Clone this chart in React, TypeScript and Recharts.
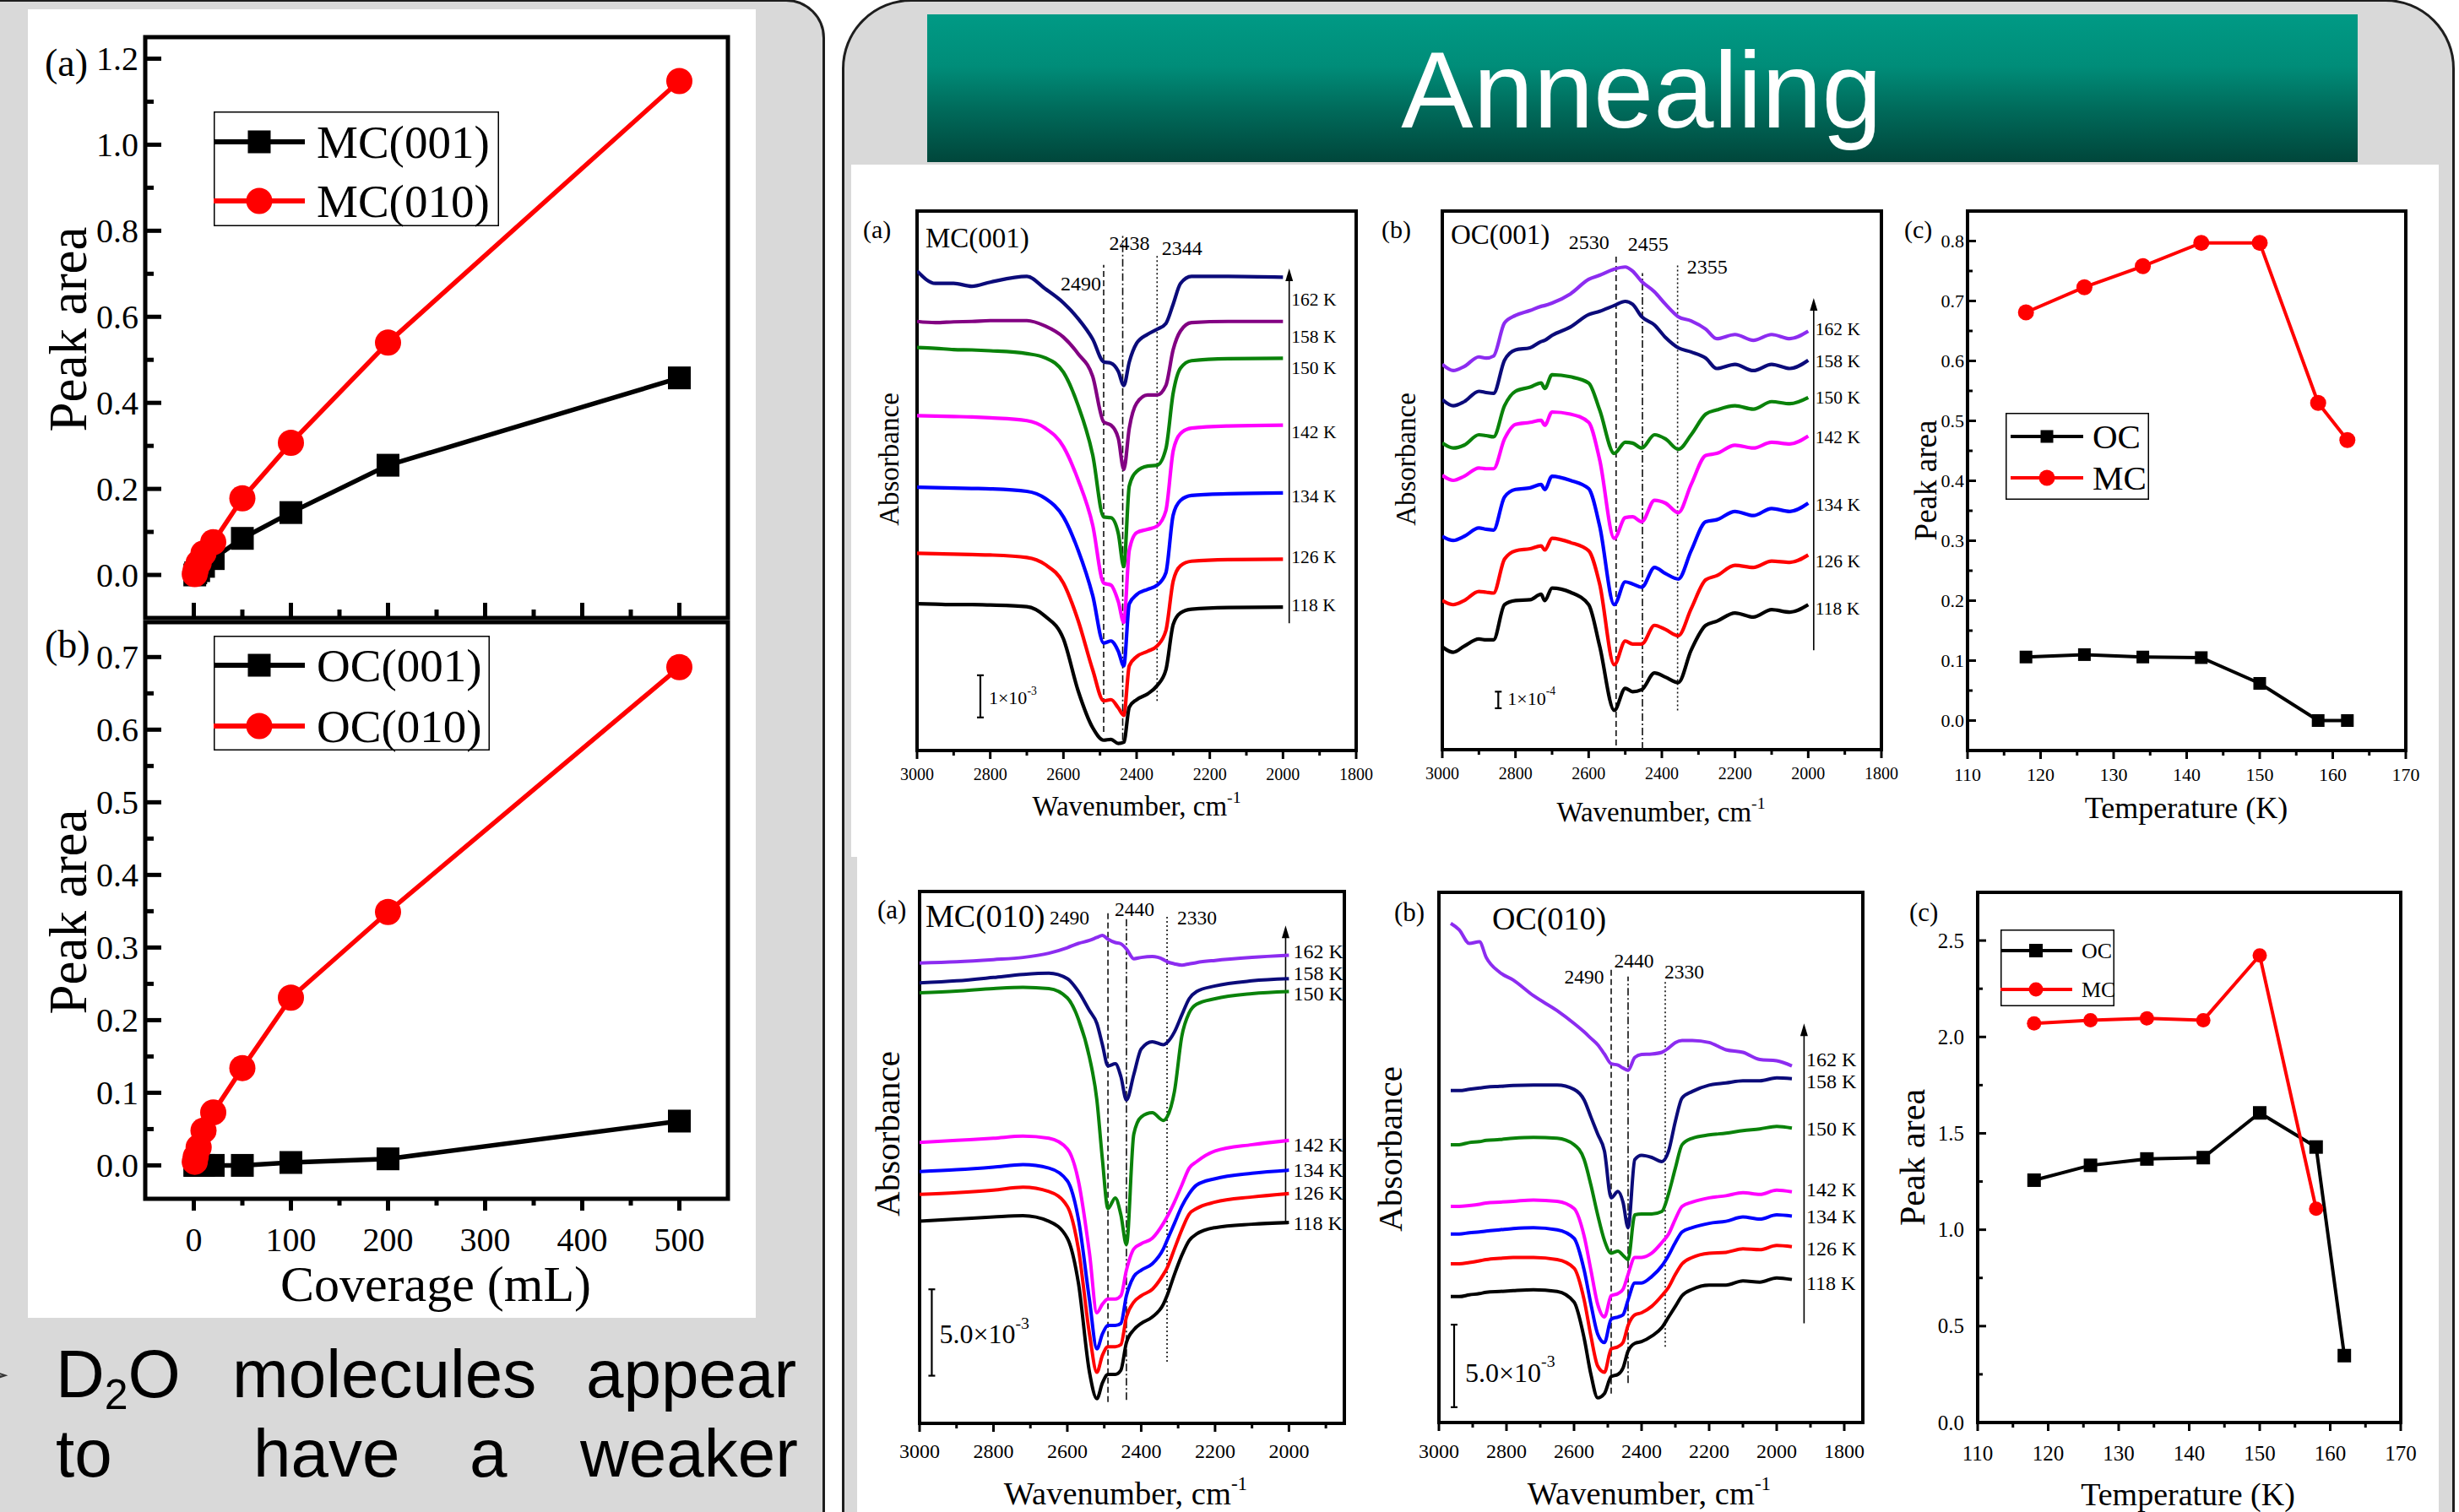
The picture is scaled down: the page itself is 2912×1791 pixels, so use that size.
import React from 'react';
import { LineChart, Line, XAxis, YAxis, ReferenceArea, ReferenceLine, Legend } from 'recharts';

const SERIF = '"Liberation Serif", "Times New Roman", serif';
const SANS = '"Liberation Sans", Arial, Helvetica, sans-serif';

// ---------- left panel: peak area vs D2O coverage ----------
const coverage = [1, 2, 5, 10, 20, 50, 100, 200, 500];
const mc001Area = [0.0, 0.005, 0.01, 0.02, 0.038, 0.085, 0.145, 0.255, 0.458];
const mc010Area = [0.002, 0.012, 0.028, 0.05, 0.076, 0.178, 0.307, 0.54, 1.148];
const oc001Area = [0, 0, 0, 0, 0, 0, 0.004, 0.009, 0.061];
const oc010Area = [0.005, 0.012, 0.025, 0.048, 0.073, 0.134, 0.231, 0.349, 0.686];

// ---------- annealing: peak area vs temperature ----------
const tempK = [118, 126, 134, 142, 150, 158, 162];
const ocAnneal001 = [0.106, 0.11, 0.106, 0.105, 0.062, 0.0, 0.0];
const mcAnneal001 = [0.681, 0.723, 0.758, 0.797, 0.797, 0.53, 0.468];
const ocAnneal010 = [1.257, 1.334, 1.367, 1.374, 1.606, 1.429, 0.347];
const mcAnneal010 = [2.07, 2.087, 2.096, 2.087, 2.423, 1.109, null];

// ---------- ticks ----------
const covTicks = [0, 50, 100, 150, 200, 250, 300, 350, 400, 450, 500];
const covMajor = [0, 100, 200, 300, 400, 500];
const areaTicksA = [0, 0.1, 0.2, 0.3, 0.4, 0.5, 0.6, 0.7, 0.8, 0.9, 1.0, 1.1, 1.2];
const areaMajorA = [0, 0.2, 0.4, 0.6, 0.8, 1.0, 1.2];
const areaTicksB = [0, 0.05, 0.1, 0.15, 0.2, 0.25, 0.3, 0.35, 0.4, 0.45, 0.5, 0.55, 0.6, 0.65, 0.7];
const areaMajorB = [0, 0.1, 0.2, 0.3, 0.4, 0.5, 0.6, 0.7];
const tempTicks = [110, 115, 120, 125, 130, 135, 140, 145, 150, 155, 160, 165, 170];
const tempMajor = [110, 120, 130, 140, 150, 160, 170];
const annealTicksTop = [0, 0.05, 0.1, 0.15, 0.2, 0.25, 0.3, 0.35, 0.4, 0.45, 0.5, 0.55, 0.6, 0.65, 0.7, 0.75, 0.8];
const annealMajorTop = [0, 0.1, 0.2, 0.3, 0.4, 0.5, 0.6, 0.7, 0.8];
const annealTicksBot = [0, 0.25, 0.5, 0.75, 1.0, 1.25, 1.5, 1.75, 2.0, 2.25, 2.5];
const annealMajorBot = [0, 0.5, 1.0, 1.5, 2.0, 2.5];
const wnTicks = [3000, 2900, 2800, 2700, 2600, 2500, 2400, 2300, 2200, 2100, 2000, 1900, 1800];
const wnMajor = [3000, 2800, 2600, 2400, 2200, 2000, 1800];

// ---------- IR spectra, absorbance in 1e-4 units (offset traces) ----------
const mc001Wn = [3000, 2950, 2900, 2850, 2800, 2700, 2650, 2600, 2560, 2520, 2490, 2470, 2450, 2435, 2420, 2400, 2370, 2344, 2320, 2300, 2280, 2250, 2150, 2000];
const mc001K162 = [116.0, 113.0, 113.0, 112.3, 113.3, 114.7, 111.7, 108.3, 104.5, 99.5, 94.0, 93.7, 91.7, 88.3, 94.0, 98.5, 100.7, 101.9, 103.3, 108.0, 113.0, 114.7, 114.7, 114.5];
const mc001K158 = [103.8, 103.5, 103.7, 103.8, 104.0, 104.0, 102.7, 100.0, 96.0, 90.5, 79.5, 78.7, 75.5, 68.0, 78.0, 84.0, 86.0, 86.0, 88.3, 97.0, 101.5, 103.5, 103.8, 103.8];
const mc001K150 = [97.5, 97.3, 97.0, 96.9, 96.7, 96.0, 95.0, 91.5, 83.5, 71.5, 56.5, 56.3, 52.5, 44.5, 64.0, 67.5, 68.8, 69.0, 73.0, 86.5, 92.5, 94.3, 94.8, 94.9];
const mc001K142 = [81.0, 80.9, 80.8, 80.7, 80.5, 79.8, 78.0, 73.5, 65.5, 54.5, 40.5, 40.0, 36.0, 31.0, 48.5, 52.7, 53.5, 54.3, 58.0, 72.5, 76.7, 78.0, 78.5, 78.7];
const mc001K134 = [63.7, 63.6, 63.5, 63.4, 63.3, 62.7, 61.0, 56.5, 48.5, 37.5, 26.0, 26.5, 24.0, 20.5, 35.5, 37.7, 39.0, 40.0, 43.0, 57.0, 60.5, 61.7, 62.1, 62.3];
const mc001K126 = [47.7, 47.6, 47.5, 47.4, 47.3, 46.7, 45.0, 40.5, 31.5, 19.5, 12.0, 12.3, 10.3, 8.5, 20.5, 22.7, 24.0, 25.3, 29.0, 41.0, 44.7, 45.8, 46.2, 46.3];
const mc001K118 = [35.5, 35.4, 35.3, 35.3, 35.2, 34.8, 32.5, 27.0, 14.5, 5.5, 2.5, 2.7, 1.7, 2.0, 10.5, 12.3, 13.7, 15.7, 19.5, 30.5, 33.3, 34.2, 34.6, 34.7];

const oc001Wn = [3000, 2970, 2940, 2900, 2880, 2860, 2830, 2800, 2760, 2730, 2720, 2700, 2650, 2600, 2570, 2530, 2500, 2480, 2455, 2420, 2390, 2355, 2320, 2280, 2250, 2200, 2150, 2100, 2050, 2000];
const oc001K162 = [93.0, 91.5, 92.5, 94.8, 94.5, 95.0, 103.0, 104.8, 106.0, 107.0, 107.2, 107.8, 110.0, 113.5, 114.5, 116.0, 116.5, 115.5, 113.0, 110.5, 107.5, 104.5, 103.5, 101.5, 99.2, 100.2, 98.8, 100.2, 99.2, 101.0];
const oc001K158 = [84.5, 83.0, 84.0, 86.5, 86.2, 86.0, 94.0, 96.5, 97.0, 98.5, 98.8, 100.0, 102.0, 105.0, 105.8, 107.2, 108.2, 107.5, 104.5, 102.5, 99.5, 97.0, 96.0, 94.5, 92.0, 93.0, 91.5, 93.0, 92.0, 94.0];
const oc001K150 = [74.0, 72.8, 73.5, 76.0, 75.8, 75.5, 83.0, 86.5, 87.5, 88.5, 87.2, 90.5, 90.0, 88.5, 82.0, 71.5, 74.2, 74.0, 72.8, 76.0, 75.0, 72.5, 76.0, 81.0, 82.0, 83.0, 82.2, 84.0, 83.5, 85.0];
const oc001K142 = [66.2, 65.0, 66.0, 68.0, 67.8, 67.8, 75.0, 78.5, 79.0, 79.5, 78.3, 81.5, 81.0, 79.0, 70.0, 51.0, 56.0, 56.2, 55.0, 60.2, 59.5, 57.2, 64.0, 71.0, 71.5, 73.5, 72.8, 74.2, 73.8, 75.7];
const oc001K134 = [51.5, 50.5, 51.5, 53.5, 53.2, 53.0, 61.0, 62.8, 63.2, 64.0, 62.8, 66.0, 65.0, 63.0, 54.0, 35.0, 40.5, 40.0, 39.2, 44.0, 42.5, 41.2, 48.0, 55.0, 55.5, 57.5, 56.5, 58.2, 57.5, 59.5];
const oc001K126 = [36.0, 35.0, 36.0, 38.2, 38.0, 37.8, 46.0, 48.0, 48.5, 49.2, 48.2, 51.0, 50.0, 48.0, 40.0, 20.5, 26.2, 25.5, 25.5, 30.0, 29.0, 27.5, 34.0, 41.0, 42.0, 44.5, 44.0, 45.5, 45.2, 47.0];
const oc001K118 = [24.8, 23.5, 25.0, 26.7, 26.5, 26.5, 35.0, 36.0, 36.2, 37.5, 36.0, 39.0, 38.0, 35.0, 25.0, 9.5, 14.8, 14.0, 14.5, 18.5, 17.5, 16.2, 24.0, 30.0, 31.0, 33.0, 32.0, 33.8, 33.2, 35.0];

const mc010Wn = [3000, 2900, 2800, 2720, 2650, 2600, 2570, 2540, 2520, 2505, 2490, 2470, 2455, 2440, 2420, 2400, 2370, 2340, 2330, 2310, 2290, 2270, 2250, 2200, 2100, 2000];
const mc010K162 = [108.2, 108.5, 109.0, 109.5, 110.5, 111.8, 112.8, 113.5, 114.2, 114.7, 113.8, 113.0, 112.7, 111.5, 109.2, 109.5, 109.7, 109.0, 108.5, 108.0, 107.7, 108.0, 108.3, 108.8, 109.5, 110.0];
const mc010K158 = [103.5, 104.0, 104.8, 105.5, 105.8, 104.5, 101.5, 97.0, 94.0, 89.0, 84.0, 84.5, 81.5, 76.0, 82.0, 88.0, 89.7, 89.0, 89.5, 92.0, 96.0, 99.8, 101.5, 102.8, 104.0, 104.5];
const mc010K150 = [101.2, 101.6, 102.2, 102.5, 102.2, 100.0, 95.0, 86.0, 76.0, 62.0, 50.5, 53.0, 49.0, 42.0, 68.0, 72.0, 73.0, 71.2, 72.0, 78.0, 91.0, 96.5, 98.5, 99.8, 101.0, 101.5];
const mc010K142 = [66.0, 66.5, 67.0, 67.5, 67.0, 64.5, 57.0, 40.0, 26.0, 28.0, 29.2, 29.2, 30.0, 36.0, 41.0, 42.2, 43.5, 47.0, 48.5, 52.0, 56.0, 60.0, 61.5, 64.0, 65.5, 66.5];
const mc010K134 = [59.2, 59.6, 60.2, 60.8, 60.0, 57.0, 48.0, 29.0, 17.5, 21.0, 23.0, 23.0, 23.5, 30.0, 34.5, 36.0, 37.5, 41.0, 43.0, 47.0, 51.0, 54.0, 56.0, 57.5, 58.8, 59.5];
const mc010K126 = [53.8, 54.2, 54.8, 55.5, 54.5, 51.0, 41.0, 21.0, 12.0, 16.0, 18.0, 18.0, 18.5, 25.0, 28.5, 30.0, 31.5, 35.0, 36.5, 41.0, 45.5, 49.2, 50.5, 52.0, 53.2, 54.0];
const mc010K118 = [47.5, 48.0, 48.5, 48.8, 47.5, 43.5, 33.0, 12.0, 5.8, 9.5, 11.5, 11.5, 12.5, 19.0, 22.0, 23.5, 25.0, 28.0, 30.0, 35.0, 39.5, 43.0, 44.5, 46.0, 46.8, 47.2];

const oc010Wn = [2965, 2940, 2910, 2880, 2860, 2820, 2780, 2720, 2650, 2600, 2570, 2550, 2530, 2510, 2490, 2470, 2455, 2440, 2420, 2400, 2370, 2340, 2320, 2300, 2280, 2250, 2200, 2150, 2100, 2050, 2000, 1955];
const oc010K162 = [117.3, 115.8, 112.6, 113.0, 109.3, 105.8, 104.0, 100.3, 96.8, 93.8, 91.8, 90.3, 88.8, 86.6, 84.3, 84.0, 83.3, 82.8, 85.8, 86.5, 86.6, 87.0, 88.0, 89.3, 89.8, 89.8, 89.3, 87.6, 87.0, 85.3, 85.0, 83.8];
const oc010K158 = [78.0, 78.0, 78.3, 78.6, 78.8, 79.0, 79.2, 79.3, 79.3, 78.3, 75.8, 71.8, 67.8, 63.8, 52.8, 54.3, 51.8, 45.8, 61.8, 62.8, 62.3, 61.3, 63.8, 70.8, 76.3, 77.8, 79.3, 79.8, 80.3, 80.3, 81.0, 80.8];
const oc010K150 = [65.3, 65.3, 65.8, 66.0, 66.3, 66.5, 66.8, 67.0, 66.8, 65.3, 61.8, 55.8, 48.8, 42.8, 39.8, 40.3, 39.3, 38.3, 48.8, 49.0, 49.0, 49.6, 53.8, 59.8, 65.3, 66.8, 67.6, 68.0, 68.6, 69.0, 69.6, 69.2];
const oc010K142 = [50.8, 50.8, 51.0, 51.3, 51.6, 51.8, 52.0, 52.3, 52.0, 50.3, 43.8, 35.8, 27.8, 24.8, 29.8, 30.3, 31.3, 34.8, 38.8, 38.8, 39.8, 42.3, 44.3, 47.8, 50.8, 51.8, 52.8, 53.3, 54.0, 53.6, 54.6, 54.2];
const oc010K134 = [44.3, 44.3, 44.6, 44.8, 45.0, 45.3, 45.6, 45.8, 45.3, 43.3, 35.8, 27.8, 20.8, 18.8, 24.3, 24.8, 25.3, 28.8, 32.8, 32.8, 34.3, 36.8, 39.3, 42.3, 44.8, 45.8, 46.8, 47.3, 48.3, 47.8, 48.8, 48.5];
const oc010K126 = [37.3, 37.3, 37.6, 38.0, 38.3, 38.6, 38.8, 38.8, 38.3, 36.3, 28.8, 20.3, 13.3, 11.8, 17.3, 17.8, 18.8, 22.8, 25.3, 25.8, 27.3, 29.8, 31.8, 34.8, 37.3, 38.8, 39.8, 40.0, 40.8, 40.6, 41.6, 41.3];
const oc010K118 = [29.6, 29.6, 30.0, 30.3, 30.6, 30.8, 31.0, 31.2, 30.8, 28.3, 19.8, 11.3, 5.8, 6.8, 10.8, 11.3, 12.8, 16.8, 18.6, 19.0, 20.3, 22.3, 24.8, 27.3, 29.8, 31.3, 32.3, 32.3, 33.3, 33.0, 34.0, 33.6];

const C = {
  navy: '#0b0b7a',
  purple: '#820082',
  green: '#0a820a',
  magenta: '#ff00ff',
  blue: '#0000ff',
  red: '#ff0000',
  black: '#000000',
  violet: '#8c2cf0',
};

// ---------- helpers ----------
type TickStyle = {
  side: 'bottom' | 'left';
  majors: number[];
  show: boolean;
  out: boolean;
  major: number;
  minor: number;
  width: number;
  font: number;
  gap: number;
  digits: number;
};

function makeTick(t: TickStyle) {
  return (props: any) => {
    const v = Number(props.payload?.value);
    const isMajor = t.majors.some((m) => Math.abs(m - v) < 1e-9);
    const len = isMajor ? t.major : t.minor;
    const s = t.out ? 1 : -1;
    const label = t.show && isMajor ? v.toFixed(t.digits) : '';
    const { x, y } = props;
    if (t.side === 'bottom') {
      return (
        <g>
          <line x1={x} y1={y} x2={x} y2={y + s * len} stroke="#000" strokeWidth={t.width} />
          {label && (
            <text x={x} y={y + t.gap} textAnchor="middle" dominantBaseline="central" fontSize={t.font} fontFamily={SERIF} fill="#000">
              {label}
            </text>
          )}
        </g>
      );
    }
    return (
      <g>
        <line x1={x} y1={y} x2={x - s * len} y2={y} stroke="#000" strokeWidth={t.width} />
        {label && (
          <text x={x - t.gap} y={y} textAnchor="end" dominantBaseline="central" fontSize={t.font} fontFamily={SERIF} fill="#000">
            {label}
          </text>
        )}
      </g>
    );
  };
}

function Note({ x, y, size, align = 'left', rotate = false, font = SERIF, color = '#000', children }: any) {
  const tx = align === 'left' ? '0' : align === 'center' ? '-50%' : '-100%';
  return (
    <div
      style={{
        position: 'absolute',
        left: x,
        top: y,
        fontSize: size,
        fontFamily: font,
        color,
        lineHeight: 0.8,
        whiteSpace: 'nowrap',
        transform: rotate ? 'translate(-50%,-50%) rotate(-90deg)' : `translate(${tx},-50%)`,
      }}
    >
      {children}
    </div>
  );
}

function Sup({ children }: any) {
  return <span style={{ fontSize: '0.6em', position: 'relative', top: '-0.75em' }}>{children}</span>;
}

function Marker({ cx, cy, shape, size, color }: any) {
  if (shape === 'square') return <rect x={cx - size / 2} y={cy - size / 2} width={size} height={size} fill={color} />;
  return <circle cx={cx} cy={cy} r={size} fill={color} />;
}

type PSeries = { key: string; name: string; color: string; values: (number | null)[]; shape: 'square' | 'circle'; size: number };

function LegendBox({ payload, st, series }: any) {
  return (
    <svg width={st.w} height={st.h} style={{ display: 'block', overflow: 'visible' }}>
      <rect x={0.75} y={0.75} width={st.w - 1.5} height={st.h - 1.5} fill="#fff" stroke="#000" strokeWidth={1.5} />
      {series.map((s: PSeries, i: number) => {
        const entry = (payload || []).find((e: any) => e.dataKey === s.key);
        const cy = st.rows[i];
        return (
          <g key={s.key}>
            <line x1={st.line[0]} x2={st.line[1]} y1={cy} y2={cy} stroke={s.color} strokeWidth={st.lw} />
            <Marker cx={st.mark} cy={cy} shape={s.shape} size={s.size} color={s.color} />
            <text x={st.textX} y={cy} dominantBaseline="central" fontSize={st.font} fontFamily={SERIF} fill="#000">
              {entry ? entry.value : s.name}
            </text>
          </g>
        );
      })}
    </svg>
  );
}

function PeakChart(p: any) {
  const rows = p.xs.map((x: number, i: number) => {
    const r: Record<string, number | null> = { x };
    p.series.forEach((s: PSeries) => {
      r[s.key] = s.values[i];
    });
    return r;
  });
  return (
    <div style={{ position: 'absolute', left: p.left, top: p.top }}>
      <LineChart width={p.width} height={p.height} data={rows} margin={p.margin}>
        <XAxis
          type="number"
          dataKey="x"
          domain={p.xDomain}
          allowDataOverflow
          ticks={p.xTicks}
          interval={0}
          height={1}
          tickSize={0}
          tickMargin={0}
          axisLine={false}
          tickLine={false}
          tick={makeTick(p.xTick)}
        />
        <YAxis
          type="number"
          domain={p.yDomain}
          allowDataOverflow
          ticks={p.yTicks}
          interval={0}
          width={1}
          tickSize={0}
          tickMargin={0}
          axisLine={false}
          tickLine={false}
          tick={makeTick(p.yTick)}
        />
        <ReferenceArea
          x1={p.xDomain[0]}
          x2={p.xDomain[1]}
          y1={p.yDomain[0]}
          y2={p.yDomain[1]}
          fill="none"
          fillOpacity={0}
          stroke="#000"
          strokeWidth={p.frame}
          ifOverflow="visible"
        />
        <Legend
          layout="vertical"
          align="center"
          verticalAlign="middle"
          wrapperStyle={{ left: p.legend.left, top: p.legend.top, width: p.legend.w, height: p.legend.h }}
          content={(lp: any) => <LegendBox payload={lp.payload} st={p.legend} series={p.series} />}
        />
        {p.series.map((s: PSeries) => (
          <Line
            key={s.key}
            dataKey={s.key}
            name={s.name}
            type="linear"
            stroke={s.color}
            strokeWidth={p.lw}
            dot={(d: any) =>
              d.cy == null || d.value == null ? null : (
                <Marker key={`${s.key}-${d.index}`} cx={d.cx} cy={d.cy} shape={s.shape} size={s.size} color={s.color} />
              )
            }
            activeDot={false}
            isAnimationActive={false}
          />
        ))}
      </LineChart>
    </div>
  );
}

type Curve = { key: string; name: string; color: string; values: number[]; dy: number };
type Mark = { w: number; lo: number; hi: number; dash: string; text: string; dx: number; dy: number; anchor: string };

function MarkShape({ x1, y1, x2, y2, m, font }: any) {
  const top = Math.min(y1, y2);
  return (
    <g>
      <line x1={x1} y1={y1} x2={x2} y2={y2} stroke="#111" strokeWidth={1.6} strokeDasharray={m.dash} />
      <text x={x1 + m.dx} y={top + m.dy} textAnchor={m.anchor} dominantBaseline="central" fontSize={font} fontFamily={SERIF} fill="#000">
        {m.text}
      </text>
    </g>
  );
}

function ArrowShape({ x1, y1, y2 }: any) {
  const top = Math.min(y1, y2);
  const bot = Math.max(y1, y2);
  return (
    <g>
      <line x1={x1} y1={bot} x2={x1} y2={top + 10} stroke="#000" strokeWidth={1.6} />
      <path d={`M${x1 - 4.5},${top + 15} L${x1},${top} L${x1 + 4.5},${top + 15} Z`} fill="#000" />
    </g>
  );
}

function BarShape({ x1, y1, y2, bar }: any) {
  const top = Math.min(y1, y2);
  const bot = Math.max(y1, y2);
  return (
    <g>
      <line x1={x1} x2={x1} y1={top} y2={bot} stroke="#000" strokeWidth={2.2} />
      <line x1={x1 - 4} x2={x1 + 4} y1={top} y2={top} stroke="#000" strokeWidth={2.2} />
      <line x1={x1 - 4} x2={x1 + 4} y1={bot} y2={bot} stroke="#000" strokeWidth={2.2} />
      <text x={x1 + bar.dx} y={(top + bot) / 2 + bar.dy} dominantBaseline="central" fontSize={bar.font} fontFamily={SERIF} fill="#000">
        {bar.text}
        <tspan dy={-bar.font * 0.42} fontSize={bar.font * 0.62}>
          {bar.exp}
        </tspan>
      </text>
    </g>
  );
}

function Spectra(p: any) {
  const rows = p.wn.map((w: number, i: number) => {
    const r: Record<string, number> = { w };
    p.curves.forEach((c: Curve) => {
      r[c.key] = c.values[i];
    });
    return r;
  });
  const last = p.wn.length - 1;
  const ticks = wnTicks.filter((t) => t >= p.xDomain[0] && t <= p.xDomain[1]);
  return (
    <div style={{ position: 'absolute', left: p.left, top: p.top }}>
      <LineChart width={p.width} height={p.height} data={rows} margin={p.margin}>
        <XAxis
          type="number"
          dataKey="w"
          domain={p.xDomain}
          reversed
          allowDataOverflow
          ticks={ticks}
          interval={0}
          height={1}
          tickSize={0}
          tickMargin={0}
          axisLine={false}
          tickLine={false}
          tick={makeTick({ side: 'bottom', majors: wnMajor, show: true, out: true, major: 10, minor: 6, width: 3, font: p.tickFont, gap: p.tickGap, digits: 0 })}
        />
        <YAxis type="number" domain={[0, p.yMax]} allowDataOverflow hide />
        <ReferenceArea
          x1={p.xDomain[0]}
          x2={p.xDomain[1]}
          y1={0}
          y2={p.yMax}
          fill="none"
          fillOpacity={0}
          stroke="#000"
          strokeWidth={4}
          ifOverflow="visible"
        />
        {p.marks.map((m: Mark) => (
          <ReferenceLine
            key={m.text}
            segment={[
              { x: m.w, y: m.lo },
              { x: m.w, y: m.hi },
            ]}
            ifOverflow="visible"
            shape={(s: any) => <MarkShape {...s} m={m} font={p.markFont} />}
          />
        ))}
        <ReferenceLine
          segment={[
            { x: p.arrow.w, y: p.arrow.lo },
            { x: p.arrow.w, y: p.arrow.hi },
          ]}
          ifOverflow="visible"
          shape={(s: any) => <ArrowShape {...s} />}
        />
        <ReferenceLine
          segment={[
            { x: p.bar.w, y: p.bar.lo },
            { x: p.bar.w, y: p.bar.hi },
          ]}
          ifOverflow="visible"
          shape={(s: any) => <BarShape {...s} bar={p.bar} />}
        />
        {p.curves.map((c: Curve) => (
          <Line
            key={c.key}
            dataKey={c.key}
            name={c.name}
            type="monotone"
            stroke={c.color}
            strokeWidth={p.lineWidth}
            dot={(d: any) =>
              d.index === last && d.cy != null ? (
                <text
                  key={`lbl-${c.key}`}
                  x={d.cx + p.labelDx}
                  y={d.cy + c.dy}
                  dominantBaseline="central"
                  fontSize={p.labelFont}
                  fontFamily={SERIF}
                  fill="#000"
                >
                  {c.name}
                </text>
              ) : null
            }
            activeDot={false}
            isAnimationActive={false}
          />
        ))}
      </LineChart>
    </div>
  );
}

const DASH = '7 4';
const DASHDOT = '9 3 2 3';
const DOT = '2 3';

export default function App() {
  return (
    <div style={{ position: 'fixed', left: 0, top: 0, width: 2912, height: 1791, overflow: 'hidden', background: '#fff', fontFamily: SERIF }}>
      {/* panels */}
      <div
        style={{
          position: 'absolute',
          left: -10,
          top: -1,
          width: 987,
          height: 1900,
          background: '#d9d9d9',
          border: '3px solid #1e1e1e',
          borderRadius: '0 46px 0 0',
          boxSizing: 'border-box',
        }}
      />
      <div style={{ position: 'absolute', left: 33, top: 11, width: 862, height: 1550, background: '#fff' }} />
      <div
        style={{
          position: 'absolute',
          left: 997,
          top: -1,
          width: 1910,
          height: 1900,
          background: '#d9d9d9',
          border: '3px solid #1e1e1e',
          borderRadius: '82px 82px 0 0',
          boxSizing: 'border-box',
        }}
      />
      <div style={{ position: 'absolute', left: 1008, top: 195, width: 1880, height: 820, background: '#fff' }} />
      <div style={{ position: 'absolute', left: 1015, top: 1012, width: 1873, height: 800, background: '#fff' }} />
      <div
        style={{
          position: 'absolute',
          left: 1098,
          top: 17,
          width: 1694,
          height: 175,
          background: 'linear-gradient(to bottom, #009a85 0%, #008d79 35%, #006a5a 65%, #00463b 100%)',
        }}
      />
      <Note x={1944} y={107} size={128} align="center" font={SANS} color="#fff">
        Annealing
      </Note>

      {/* left: coverage charts */}
      <PeakChart
        left={0}
        top={0}
        width={900}
        height={760}
        margin={{ top: 44, right: 38, bottom: 27, left: 171 }}
        xs={coverage}
        xDomain={[-50, 550]}
        yDomain={[-0.1, 1.25]}
        xTicks={covTicks}
        yTicks={areaTicksA}
        xTick={{ side: 'bottom', majors: covMajor, show: false, out: false, major: 18, minor: 10, width: 5, font: 40, gap: 50, digits: 0 }}
        yTick={{ side: 'left', majors: areaMajorA, show: true, out: false, major: 19, minor: 10, width: 5, font: 40, gap: 8, digits: 1 }}
        frame={5}
        lw={5.5}
        series={[
          { key: 'mc001', name: 'MC(001)', color: C.black, values: mc001Area, shape: 'square', size: 27 },
          { key: 'mc010', name: 'MC(010)', color: C.red, values: mc010Area, shape: 'circle', size: 15.5 },
        ]}
        legend={{ left: 253, top: 132, w: 338, h: 136, rows: [36, 106], line: [0, 108], mark: 54, textX: 122, font: 55, lw: 6 }}
      />
      <PeakChart
        left={0}
        top={700}
        width={900}
        height={860}
        margin={{ top: 37, right: 38, bottom: 139, left: 171 }}
        xs={coverage}
        xDomain={[-50, 550]}
        yDomain={[-0.046, 0.748]}
        xTicks={covTicks}
        yTicks={areaTicksB}
        xTick={{ side: 'bottom', majors: covMajor, show: true, out: true, major: 14, minor: 8, width: 5, font: 40, gap: 48, digits: 0 }}
        yTick={{ side: 'left', majors: areaMajorB, show: true, out: false, major: 19, minor: 10, width: 5, font: 40, gap: 8, digits: 1 }}
        frame={5}
        lw={5.5}
        series={[
          { key: 'oc001', name: 'OC(001)', color: C.black, values: oc001Area, shape: 'square', size: 27 },
          { key: 'oc010', name: 'OC(010)', color: C.red, values: oc010Area, shape: 'circle', size: 15.5 },
        ]}
        legend={{ left: 253, top: 53, w: 327, h: 136, rows: [35, 107], line: [0, 108], mark: 54, textX: 122, font: 55, lw: 6 }}
      />
      <Note x={53} y={75} size={46}>(a)</Note>
      <Note x={53} y={764} size={46}>(b)</Note>
      <Note x={81} y={390} size={63} rotate>Peak area</Note>
      <Note x={81} y={1080} size={63} rotate>Peak area</Note>
      <Note x={516} y={1521} size={60} align="center">Coverage (mL)</Note>

      {/* left: caption text */}
      <Note x={-30} y={1628} size={50} font='"DejaVu Sans", sans-serif' color="#333">➢</Note>
      <Note x={66} y={1628} size={80} font={SANS}>
        D<span style={{ fontSize: 50, position: 'relative', top: 14 }}>2</span>O
      </Note>
      <Note x={275} y={1628} size={80} font={SANS}>molecules</Note>
      <Note x={694} y={1628} size={80} font={SANS}>appear</Note>
      <Note x={66} y={1722} size={80} font={SANS}>to</Note>
      <Note x={300} y={1722} size={80} font={SANS}>have</Note>
      <Note x={556} y={1722} size={80} font={SANS}>a</Note>
      <Note x={687} y={1722} size={80} font={SANS}>weaker</Note>

      {/* top row: MC(001) spectra */}
      <Spectra
        left={1000}
        top={200}
        width={640}
        height={800}
        margin={{ top: 50, right: 34, bottom: 110, left: 86 }}
        wn={mc001Wn}
        xDomain={[1800, 3000]}
        yMax={130.5}
        tickFont={20}
        tickGap={28}
        lineWidth={4.2}
        labelDx={10}
        labelFont={21.5}
        markFont={24}
        curves={[
          { key: 'k162', name: '162 K', color: C.navy, values: mc001K162, dy: 27 },
          { key: 'k158', name: '158 K', color: C.purple, values: mc001K158, dy: 18.6 },
          { key: 'k150', name: '150 K', color: C.green, values: mc001K150, dy: 11.8 },
          { key: 'k142', name: '142 K', color: C.magenta, values: mc001K142, dy: 8.4 },
          { key: 'k134', name: '134 K', color: C.blue, values: mc001K134, dy: 3.9 },
          { key: 'k126', name: '126 K', color: C.red, values: mc001K126, dy: -2 },
          { key: 'k118', name: '118 K', color: C.black, values: mc001K118, dy: -2.5 },
        ]}
        marks={[
          { w: 2490, lo: 4.5, hi: 117.5, dash: DASH, text: '2490', dx: -3, dy: 22, anchor: 'end' },
          { w: 2438, lo: 2.5, hi: 124.5, dash: DASHDOT, text: '2438', dx: 8, dy: 9, anchor: 'middle' },
          { w: 2344, lo: 12, hi: 120, dash: DOT, text: '2344', dx: 5.5, dy: -7, anchor: 'start' },
        ]}
        arrow={{ w: 1983, lo: 30.8, hi: 116.6 }}
        bar={{ w: 2827, lo: 8.0, hi: 18.2, text: '1×10', exp: '-3', font: 22, dx: 10, dy: 2 }}
      />
      <Note x={1022} y={272} size={30}>(a)</Note>
      <Note x={1096} y={282} size={33}>MC(001)</Note>
      <Note x={1053} y={544} size={33} rotate>Absorbance</Note>
      <Note x={1346} y={955} size={33} align="center">
        Wavenumber, cm<Sup>-1</Sup>
      </Note>

      {/* top row: OC(001) spectra */}
      <Spectra
        left={1640}
        top={200}
        width={620}
        height={800}
        margin={{ top: 50, right: 32, bottom: 111, left: 68 }}
        wn={oc001Wn}
        xDomain={[1800, 3000]}
        yMax={130}
        tickFont={20}
        tickGap={28}
        lineWidth={4.2}
        labelDx={8.5}
        labelFont={21.5}
        markFont={24}
        curves={[
          { key: 'k162', name: '162 K', color: C.violet, values: oc001K162, dy: -2.5 },
          { key: 'k158', name: '158 K', color: C.navy, values: oc001K158, dy: 1.5 },
          { key: 'k150', name: '150 K', color: C.green, values: oc001K150, dy: 0 },
          { key: 'k142', name: '142 K', color: C.magenta, values: oc001K142, dy: 2 },
          { key: 'k134', name: '134 K', color: C.blue, values: oc001K134, dy: 2.5 },
          { key: 'k126', name: '126 K', color: C.red, values: oc001K126, dy: 7.4 },
          { key: 'k118', name: '118 K', color: C.black, values: oc001K118, dy: 5 },
        ]}
        marks={[
          { w: 2525, lo: 1, hi: 119.5, dash: DASH, text: '2530', dx: -8, dy: -15, anchor: 'end' },
          { w: 2453, lo: 0, hi: 115, dash: DASHDOT, text: '2455', dx: 6.6, dy: -34.6, anchor: 'middle' },
          { w: 2357, lo: 9.5, hi: 117, dash: DOT, text: '2355', dx: 11, dy: 2, anchor: 'start' },
        ]}
        arrow={{ w: 1985, lo: 24, hi: 109 }}
        bar={{ w: 2847, lo: 10, hi: 14, text: '1×10', exp: '-4', font: 22, dx: 11, dy: -2 }}
      />
      <Note x={1636} y={272} size={30}>(b)</Note>
      <Note x={1718} y={278} size={33}>OC(001)</Note>
      <Note x={1665} y={544} size={33} rotate>Absorbance</Note>
      <Note x={1967} y={962} size={33} align="center">
        Wavenumber, cm<Sup>-1</Sup>
      </Note>

      {/* top row: peak area vs T */}
      <PeakChart
        left={2240}
        top={200}
        width={660}
        height={800}
        margin={{ top: 50, right: 51, bottom: 110, left: 89 }}
        xs={tempK}
        xDomain={[110, 170]}
        yDomain={[-0.05, 0.85]}
        xTicks={tempTicks}
        yTicks={annealTicksTop}
        xTick={{ side: 'bottom', majors: tempMajor, show: true, out: true, major: 10, minor: 6, width: 3, font: 22, gap: 28.6, digits: 0 }}
        yTick={{ side: 'left', majors: annealMajorTop, show: true, out: false, major: 10, minor: 6, width: 3, font: 22, gap: 4, digits: 1 }}
        frame={4}
        lw={4}
        series={[
          { key: 'oc', name: 'OC', color: C.black, values: ocAnneal001, shape: 'square', size: 15 },
          { key: 'mc', name: 'MC', color: C.red, values: mcAnneal001, shape: 'circle', size: 9.5 },
        ]}
        legend={{ left: 135, top: 289, w: 170, h: 103, rows: [28, 77], line: [6, 92], mark: 49, textX: 103, font: 41, lw: 4 }}
      />
      <Note x={2255} y={272} size={30}>(c)</Note>
      <Note x={2281} y={569} size={37} rotate>Peak area</Note>
      <Note x={2589} y={957} size={36} align="center">Temperature (K)</Note>

      {/* bottom row: MC(010) spectra */}
      <Spectra
        left={1000}
        top={1010}
        width={640}
        height={781}
        margin={{ top: 46, right: 48, bottom: 104, left: 89 }}
        wn={mc010Wn}
        xDomain={[1850, 3000]}
        yMax={125}
        tickFont={24}
        tickGap={33}
        lineWidth={4}
        labelDx={5}
        labelFont={24}
        markFont={23.5}
        curves={[
          { key: 'k162', name: '162 K', color: C.violet, values: mc010K162, dy: -5 },
          { key: 'k158', name: '158 K', color: C.navy, values: mc010K158, dy: -6 },
          { key: 'k150', name: '150 K', color: C.green, values: mc010K150, dy: 2.5 },
          { key: 'k142', name: '142 K', color: C.magenta, values: mc010K142, dy: 5 },
          { key: 'k134', name: '134 K', color: C.blue, values: mc010K134, dy: 0 },
          { key: 'k126', name: '126 K', color: C.red, values: mc010K126, dy: -1 },
          { key: 'k118', name: '118 K', color: C.black, values: mc010K118, dy: 1 },
        ]}
        marks={[
          { w: 2490, lo: 5, hi: 120, dash: DASH, text: '2490', dx: -22, dy: 6, anchor: 'end' },
          { w: 2440, lo: 5.5, hi: 118.5, dash: DASHDOT, text: '2440', dx: 9.5, dy: -11.6, anchor: 'middle' },
          { w: 2330, lo: 14.5, hi: 119.5, dash: DOT, text: '2330', dx: 12, dy: 3.6, anchor: 'start' },
        ]}
        arrow={{ w: 2009, lo: 47, hi: 117 }}
        bar={{ w: 2967, lo: 11.2, hi: 31.5, text: '5.0×10', exp: '-3', font: 32, dx: 9, dy: 2 }}
      />
      <Note x={1039} y={1078} size={31}>(a)</Note>
      <Note x={1096} y={1085} size={38}>MC(010)</Note>
      <Note x={1051} y={1343} size={41} rotate>Absorbance</Note>
      <Note x={1333} y={1769} size={38.5} align="center">
        Wavenumber, cm<Sup>-1</Sup>
      </Note>

      {/* bottom row: OC(010) spectra */}
      <Spectra
        left={1640}
        top={1010}
        width={620}
        height={781}
        margin={{ top: 47, right: 54, bottom: 105, left: 64 }}
        wn={oc010Wn}
        xDomain={[1745, 3000]}
        yMax={124.6}
        tickFont={24}
        tickGap={34}
        lineWidth={4}
        labelDx={17}
        labelFont={24}
        markFont={23.5}
        curves={[
          { key: 'k162', name: '162 K', color: C.violet, values: oc010K162, dy: -7.6 },
          { key: 'k158', name: '158 K', color: C.navy, values: oc010K158, dy: 3 },
          { key: 'k150', name: '150 K', color: C.green, values: oc010K150, dy: 1 },
          { key: 'k142', name: '142 K', color: C.magenta, values: oc010K142, dy: -3 },
          { key: 'k134', name: '134 K', color: C.blue, values: oc010K134, dy: 0 },
          { key: 'k126', name: '126 K', color: C.red, values: oc010K126, dy: 2.5 },
          { key: 'k118', name: '118 K', color: C.black, values: oc010K118, dy: 4 },
        ]}
        marks={[
          { w: 2490, lo: 6.8, hi: 106.8, dash: DASH, text: '2490', dx: -8.4, dy: 10, anchor: 'end' },
          { w: 2440, lo: 9.3, hi: 104.8, dash: DASHDOT, text: '2440', dx: 7, dy: -19.2, anchor: 'middle' },
          { w: 2330, lo: 17.8, hi: 104, dash: DOT, text: '2330', dx: -1, dy: -10, anchor: 'start' },
        ]}
        arrow={{ w: 1919, lo: 23.3, hi: 93.8 }}
        bar={{ w: 2955, lo: 3.6, hi: 23.0, text: '5.0×10', exp: '-3', font: 32, dx: 13, dy: 7.6 }}
      />
      <Note x={1651} y={1081} size={31}>(b)</Note>
      <Note x={1767} y={1088} size={38}>OC(010)</Note>
      <Note x={1646} y={1361} size={41} rotate>Absorbance</Note>
      <Note x={1953} y={1769} size={38.5} align="center">
        Wavenumber, cm<Sup>-1</Sup>
      </Note>

      {/* bottom row: peak area vs T */}
      <PeakChart
        left={2240}
        top={1010}
        width={660}
        height={781}
        margin={{ top: 47, right: 57, bottom: 105, left: 101 }}
        xs={tempK}
        xDomain={[110, 170]}
        yDomain={[0, 2.75]}
        xTicks={tempTicks}
        yTicks={annealTicksBot}
        xTick={{ side: 'bottom', majors: tempMajor, show: true, out: true, major: 10, minor: 6, width: 3, font: 25, gap: 36.5, digits: 0 }}
        yTick={{ side: 'left', majors: annealMajorBot, show: true, out: false, major: 10, minor: 6, width: 3, font: 25, gap: 16, digits: 1 }}
        frame={4}
        lw={4}
        series={[
          { key: 'oc', name: 'OC', color: C.black, values: ocAnneal010, shape: 'square', size: 16 },
          { key: 'mc', name: 'MC', color: C.red, values: mcAnneal010, shape: 'circle', size: 8.5 },
        ]}
        legend={{ left: 129, top: 91, w: 135, h: 91, rows: [25, 71], line: [0, 85], mark: 42, textX: 96, font: 26, lw: 4 }}
      />
      <Note x={2261} y={1081} size={31}>(c)</Note>
      <Note x={2266} y={1371} size={42} rotate>Peak area</Note>
      <Note x={2591} y={1770} size={38} align="center">Temperature (K)</Note>
    </div>
  );
}
